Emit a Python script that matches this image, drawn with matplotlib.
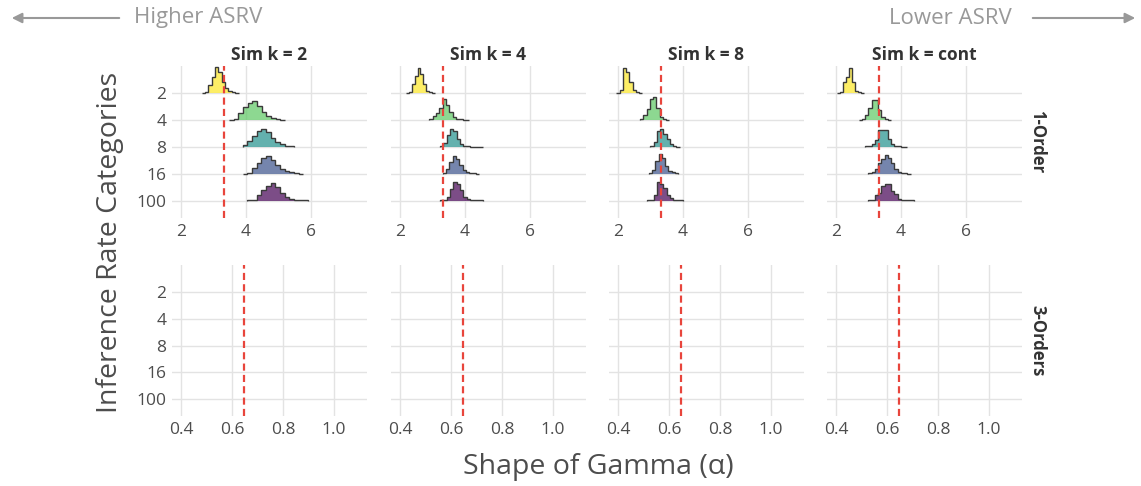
import matplotlib
matplotlib.use("Agg")
import matplotlib.pyplot as plt
import numpy as np

plt.rcParams['font.family'] = ['Open Sans', 'DejaVu Sans']

# ---------------- data ----------------
categories = ["2", "4", "8", "16", "100"]
sim_labels = ["Sim k = 2", "Sim k = 4", "Sim k = 8", "Sim k = cont"]
row_labels = ["1-Order", "3-Orders"]
ridge_colors = ["#FDE725", "#5DC863", "#21908C", "#3B528B", "#440154"]

ref_alpha_1order = 3.34
ref_alpha_3orders = 0.647

top_xticks = [2, 4, 6]
bottom_xticks = [0.4, 0.6, 0.8, 1.0]

# histogram ridges (1-Order row): bin start, bin width, bin heights (in ridge units)
k2_starts = [2.64, 3.482, 3.903, 3.903, 4.048]
k2_widths = [0.103, 0.144, 0.144, 0.144, 0.144]
k2_heights = [
    [0.02, 0.06, 0.30, 0.60, 0.97, 0.80, 0.40, 0.20, 0.08, 0.03, 0.02],
    [0.02, 0.05, 0.25, 0.50, 0.65, 0.70, 0.53, 0.31, 0.16, 0.07, 0.03, 0.02],
    [0.07, 0.22, 0.42, 0.60, 0.69, 0.57, 0.35, 0.20, 0.10, 0.05, 0.03],
    [0.02, 0.04, 0.21, 0.40, 0.58, 0.68, 0.52, 0.33, 0.19, 0.10, 0.06, 0.03, 0.02],
    [0.02, 0.05, 0.21, 0.40, 0.56, 0.68, 0.52, 0.31, 0.15, 0.09, 0.04, 0.02, 0.02],
]

k4_starts = [2.18, 2.905, 3.235, 3.317, 3.235]
k4_widths = [0.09, 0.103, 0.103, 0.103, 0.103]
k4_heights = [
    [0.02, 0.05, 0.35, 0.65, 0.95, 0.70, 0.35, 0.10, 0.03, 0.02],
    [0.03, 0.15, 0.25, 0.45, 0.78, 0.58, 0.30, 0.12, 0.06, 0.03, 0.02, 0.02],
    [0.03, 0.15, 0.45, 0.69, 0.58, 0.30, 0.12, 0.05, 0.03, 0.02, 0.02, 0.02, 0.02],
    [0.03, 0.20, 0.45, 0.68, 0.55, 0.33, 0.15, 0.06, 0.04, 0.03, 0.02],
    [0.02, 0.03, 0.15, 0.46, 0.70, 0.64, 0.40, 0.15, 0.09, 0.04, 0.03, 0.02, 0.02],
]

k8_starts = [1.95, 2.68, 3.0, 2.95, 2.9]
k8_widths = [0.1, 0.1, 0.1, 0.1, 0.1]
k8_heights = [
    [0.02, 0.12, 0.93, 0.80, 0.40, 0.12, 0.04, 0.02],
    [0.03, 0.20, 0.42, 0.78, 0.85, 0.45, 0.12, 0.04, 0.02],
    [0.04, 0.20, 0.60, 0.66, 0.50, 0.30, 0.10, 0.04, 0.02],
    [0.03, 0.16, 0.50, 0.75, 0.60, 0.30, 0.12, 0.06, 0.03],
    [0.02, 0.03, 0.22, 0.72, 0.65, 0.47, 0.22, 0.10, 0.05, 0.03, 0.02],
]

kc_starts = [2.04, 2.7, 2.9, 3.0, 3.0]
kc_widths = [0.09, 0.1, 0.1, 0.1, 0.1]
kc_heights = [
    [0.02, 0.05, 0.40, 0.60, 0.93, 0.43, 0.10, 0.04, 0.02],
    [0.02, 0.04, 0.20, 0.44, 0.73, 0.75, 0.38, 0.11, 0.04, 0.02],
    [0.03, 0.05, 0.12, 0.27, 0.62, 0.64, 0.62, 0.30, 0.12, 0.06, 0.03, 0.02, 0.02],
    [0.04, 0.06, 0.20, 0.40, 0.55, 0.70, 0.58, 0.42, 0.20, 0.08, 0.04, 0.03, 0.02],
    [0.03, 0.05, 0.22, 0.30, 0.56, 0.64, 0.62, 0.38, 0.26, 0.08, 0.04, 0.03, 0.02, 0.02],
]

panel_starts = [k2_starts, k4_starts, k8_starts, kc_starts]
panel_widths = [k2_widths, k4_widths, k8_widths, kc_widths]
panel_heights = [k2_heights, k4_heights, k8_heights, kc_heights]

# ---------------- layout ----------------
W, H = 1141, 486
fig = plt.figure(figsize=(W / 100, H / 100), dpi=100)

col_left_px = [172, 391, 609, 827]
panel_w_px = 195
rows_px = [(66, 218), (265, 416)]

grid_col = "#e3e3e3"
tick_col = "#4d4d4d"
title_col = "#333333"
red = "#e8453c"
dash = (0, (3.2, 1.9))

ypos = {c: len(categories) - 1 - i for i, c in enumerate(categories)}

for r, (ytop, ybot) in enumerate(rows_px):
    for c, lp in enumerate(col_left_px):
        ax = fig.add_axes([lp / W, 1 - ybot / H, panel_w_px / W, (ybot - ytop) / H])
        for s in ax.spines.values():
            s.set_visible(False)
        ax.tick_params(length=0, labelsize=12.5, labelcolor=tick_col, pad=4)
        ax.set_yticks([ypos[k] for k in categories])
        if c == 0:
            ax.set_yticklabels(categories)
        else:
            ax.set_yticklabels([])
        ax.set_ylim(-0.63, 5.01)
        ax.grid(True, color=grid_col, lw=1.0)
        ax.set_axisbelow(True)
        if r == 0:
            ax.set_xlim(1.72, 7.74)
            ax.set_xticks(top_xticks)
            ax.set_xticklabels([str(t) for t in top_xticks])
            for i, cat in enumerate(categories):
                b = ypos[cat]
                h = np.array(panel_heights[c][i])
                edges = panel_starts[c][i] + panel_widths[c][i] * np.arange(len(h) + 1)
                ax.stairs(b + h, edges, baseline=b, fill=True,
                          facecolor=ridge_colors[i], alpha=0.7, lw=0, zorder=2 + i)
                ax.stairs(b + h, edges, baseline=b, fill=False,
                          edgecolor="#3a3a3a", lw=1.0, zorder=2.5 + i)
            ax.axvline(ref_alpha_1order, color=red, lw=1.6, ls=dash, zorder=10)
        else:
            ax.set_xlim(0.365, 1.129)
            ax.set_xticks(bottom_xticks)
            ax.set_xticklabels([f"{t:.1f}" for t in bottom_xticks])
            ax.axvline(ref_alpha_3orders, color=red, lw=1.6, ls=dash, zorder=10)
        if r == 0:
            ax.set_title(sim_labels[c], fontsize=12.5, fontweight="bold",
                         color=title_col, pad=4)
        if c == 3:
            fig.text(1037 / W, 1 - (ytop + ybot) / 2 / H, row_labels[r],
                     rotation=-90, ha="center", va="center", fontsize=12,
                     fontweight="bold", color=title_col)

# axis titles
fig.text(110 / W, 1 - 242 / H, "Inference Rate Categories", rotation=90,
         ha="center", va="center", fontsize=20.5, color="#4d4d4d")
fig.text(598 / W, 1 - 467 / H, "Shape of Gamma (α)", ha="center", va="center",
         fontsize=20.5, color="#4d4d4d")

# top arrows
arrow_col = "#999999"
fig.text(198 / W, 1 - 18 / H, "Higher ASRV", ha="center", va="center",
         fontsize=16, color=arrow_col)
fig.text(950 / W, 1 - 18 / H, "Lower ASRV", ha="center", va="center",
         fontsize=16, color=arrow_col)
fig.add_artist(matplotlib.patches.FancyArrowPatch(
    (122 / W, 1 - 18 / H), (9 / W, 1 - 18 / H), transform=fig.transFigure,
    arrowstyle="-|>,head_length=6,head_width=3", color=arrow_col, lw=1.5,
    mutation_scale=1))
fig.add_artist(matplotlib.patches.FancyArrowPatch(
    (1030 / W, 1 - 18 / H), (1138 / W, 1 - 18 / H), transform=fig.transFigure,
    arrowstyle="-|>,head_length=6,head_width=3", color=arrow_col, lw=1.5,
    mutation_scale=1))

fig.savefig("out.png", dpi=100)
